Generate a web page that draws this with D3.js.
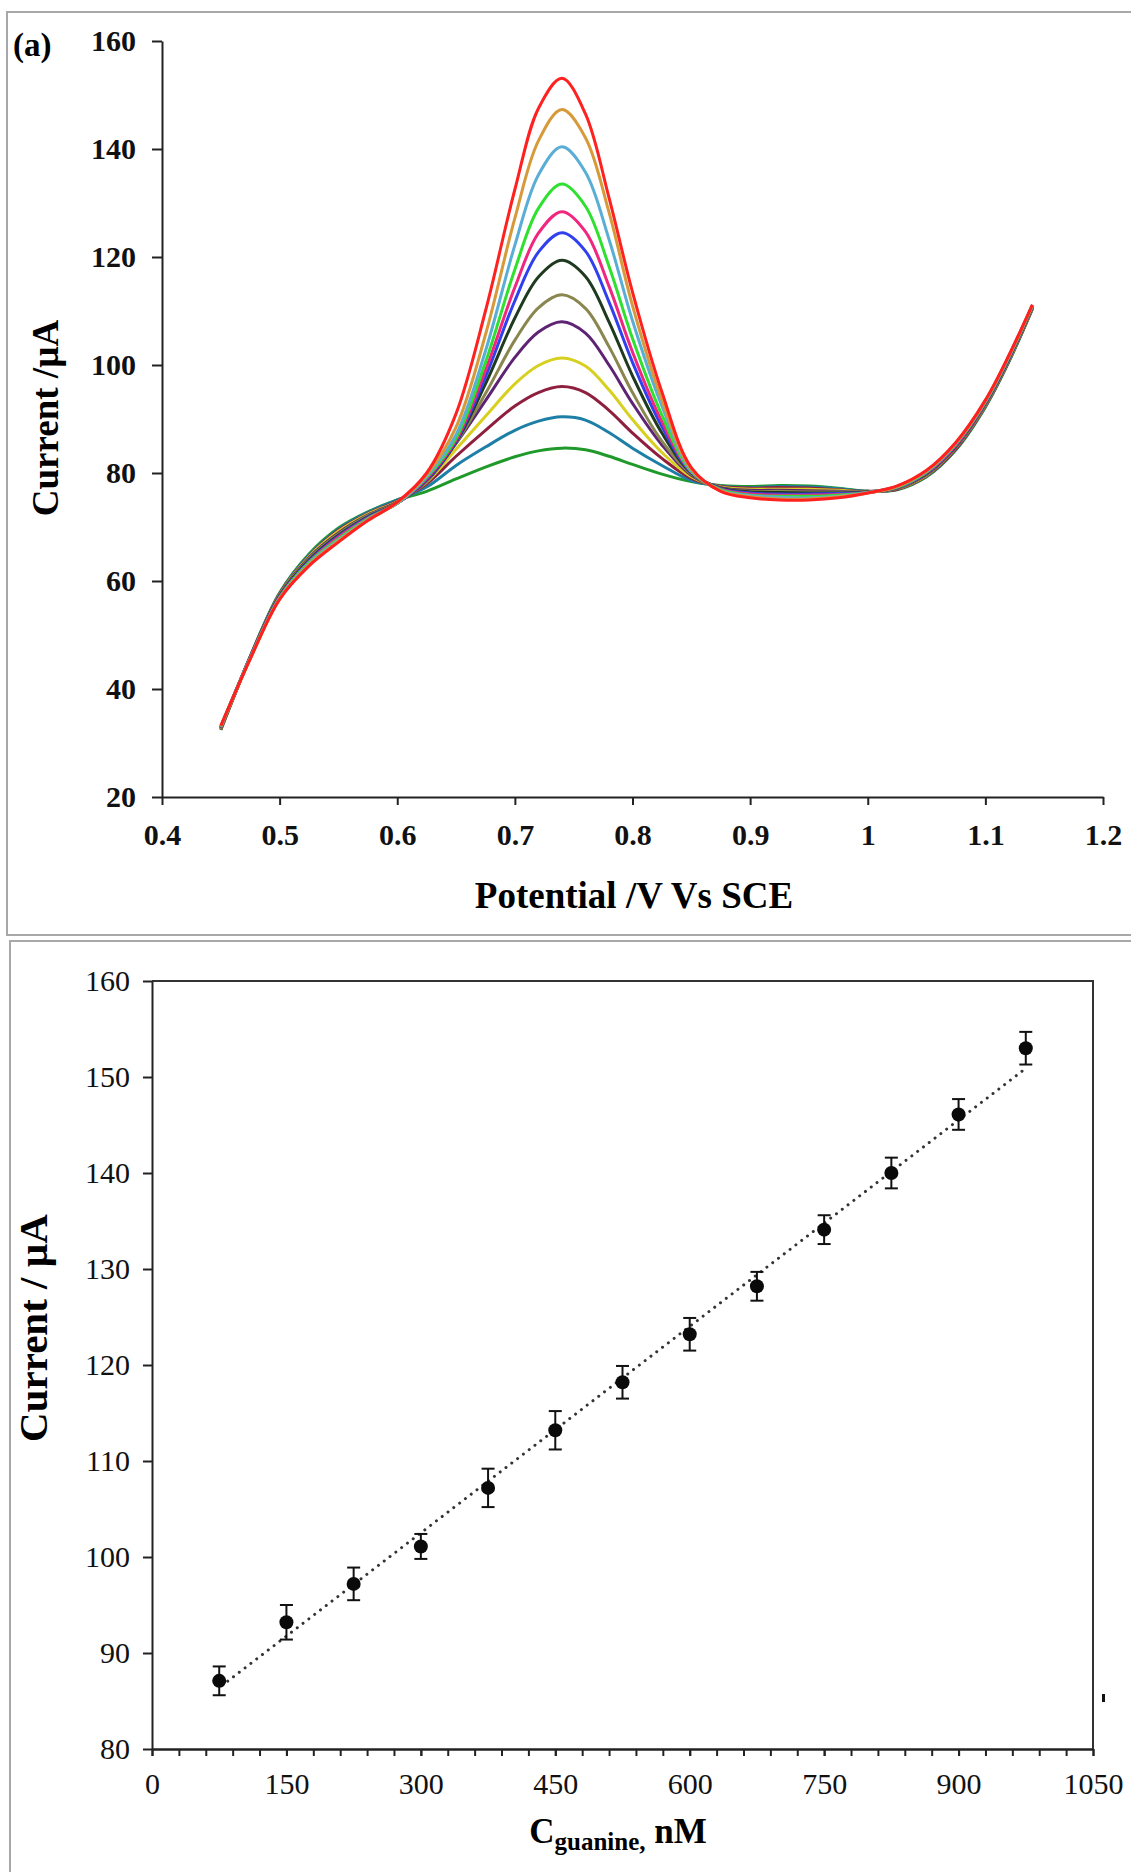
<!DOCTYPE html>
<html>
<head>
<meta charset="utf-8">
<script src="https://cdn.jsdelivr.net/npm/d3@7"></script>
<style>
  body { margin: 0; background: #fff; }
  svg { display: block; }
</style>
</head>
<body>
<script>
// ---- panel (a): voltammograms ----
const potentials = [0.45, 0.475, 0.5, 0.525, 0.55, 0.575, 0.6, 0.625, 0.65, 0.675, 0.7, 0.72, 0.74, 0.76, 0.78, 0.8, 0.825, 0.85, 0.875, 0.9, 0.925, 0.95, 0.975, 1.0, 1.025, 1.05, 1.075, 1.1, 1.12, 1.14]

const curveGreen = [32.4, 46.0, 57.8, 65.0, 69.8, 72.8, 75.0, 76.6, 78.9, 81.1, 83.0, 84.1, 84.6, 84.3, 83.1, 81.6, 79.8, 78.4, 77.7, 77.5, 77.7, 77.6, 77.2, 76.6, 76.9, 79.3, 84.3, 92.2, 100.6, 110.4]
const curveTeal = [32.5, 46.0, 57.7, 64.8, 69.6, 72.7, 75.0, 77.4, 81.4, 84.8, 87.9, 89.6, 90.4, 89.8, 87.5, 84.6, 81.4, 78.6, 77.6, 77.3, 77.5, 77.4, 77.1, 76.6, 77.0, 79.4, 84.4, 92.3, 100.7, 110.5]
const curveMaroon = [32.5, 45.9, 57.6, 64.6, 69.4, 72.5, 74.8, 78.0, 83.1, 87.9, 92.4, 94.9, 96.0, 94.9, 91.6, 87.4, 82.7, 79.0, 77.5, 77.2, 77.3, 77.2, 76.9, 76.6, 77.0, 79.5, 84.5, 92.4, 100.8, 110.5]
const curveYellow = [32.6, 45.9, 57.5, 64.5, 69.2, 72.4, 74.7, 78.3, 84.4, 90.5, 96.5, 99.9, 101.3, 99.8, 95.4, 89.9, 83.8, 79.3, 77.4, 77.0, 77.0, 77.0, 76.8, 76.5, 77.1, 79.6, 84.7, 92.5, 100.9, 110.6]
const curvePurple = [32.7, 45.9, 57.4, 64.3, 68.9, 72.2, 74.6, 78.5, 85.5, 93.4, 101.4, 106.1, 108.0, 105.9, 100.0, 92.9, 85.2, 79.6, 77.3, 76.8, 76.8, 76.7, 76.6, 76.5, 77.1, 79.7, 84.8, 92.6, 101.0, 110.7]
const curveOlive = [32.7, 45.8, 57.3, 64.1, 68.7, 72.1, 74.5, 78.6, 85.6, 94.7, 104.6, 110.6, 113.0, 110.5, 103.4, 94.9, 85.9, 79.8, 77.2, 76.6, 76.6, 76.5, 76.5, 76.5, 77.2, 79.8, 84.9, 92.7, 101.1, 110.7]
const curveDarkGreen = [32.8, 45.8, 57.2, 63.9, 68.5, 71.9, 74.4, 78.7, 85.7, 96.5, 108.7, 116.3, 119.4, 116.4, 108.0, 98.0, 87.4, 80.0, 77.2, 76.5, 76.4, 76.3, 76.3, 76.5, 77.3, 79.9, 85.0, 92.9, 101.2, 110.8]
const curveBlue = [32.9, 45.8, 57.1, 63.7, 68.3, 71.8, 74.4, 78.8, 85.9, 97.8, 111.9, 120.9, 124.5, 121.1, 111.7, 100.5, 88.6, 80.1, 77.1, 76.3, 76.1, 76.1, 76.2, 76.4, 77.3, 80.0, 85.1, 93.0, 101.3, 110.9]
const curvePink = [32.9, 45.7, 57.0, 63.5, 68.1, 71.6, 74.4, 79.0, 86.1, 99.0, 114.4, 124.4, 128.4, 124.7, 114.6, 102.4, 89.5, 80.2, 77.0, 76.1, 75.9, 75.9, 76.0, 76.4, 77.4, 80.1, 85.2, 93.1, 101.4, 110.9]
const curveLime = [33.0, 45.7, 56.9, 63.4, 67.8, 71.5, 74.4, 79.2, 86.5, 100.5, 117.7, 129.0, 133.5, 129.4, 118.3, 104.9, 90.7, 80.3, 76.9, 75.9, 75.7, 75.7, 75.9, 76.4, 77.4, 80.2, 85.4, 93.2, 101.5, 111.0]
const curveSky = [33.1, 45.7, 56.8, 63.2, 67.6, 71.4, 74.4, 79.4, 87.1, 102.6, 122.2, 135.2, 140.4, 135.7, 123.3, 108.2, 92.4, 80.4, 76.8, 75.8, 75.5, 75.4, 75.7, 76.4, 77.5, 80.3, 85.5, 93.3, 101.6, 111.1]
const curveOrange = [33.1, 45.6, 56.7, 63.0, 67.4, 71.3, 74.5, 79.7, 88.5, 105.6, 127.2, 141.5, 147.3, 142.1, 128.3, 111.0, 93.5, 80.7, 76.7, 75.6, 75.2, 75.2, 75.6, 76.3, 77.5, 80.4, 85.6, 93.4, 101.7, 111.1]
const curveRed = [33.2, 45.6, 56.6, 62.8, 67.2, 71.2, 74.6, 80.0, 91.0, 110.0, 132.5, 147.5, 153.1, 146.5, 131.0, 113.5, 95.0, 81.0, 76.6, 75.4, 75.0, 75.0, 75.4, 76.3, 77.6, 80.5, 85.7, 93.5, 101.8, 111.2]

const curves = [curveGreen, curveTeal, curveMaroon, curveYellow, curvePurple, curveOlive,
  curveDarkGreen, curveBlue, curvePink, curveLime, curveSky, curveOrange, curveRed]
const curveColors = ['#1f9a2a', '#1e7fa6', '#8e1f3f', '#d8d020', '#5e2473', '#8a8650',
  '#1f3a1f', '#3040ee', '#f0267f', '#2fe02f', '#5aaed6', '#d69a3a', '#ff2020']

const topXTicks = [0.4, 0.5, 0.6, 0.7, 0.8, 0.9, 1.0, 1.1, 1.2]
const topYTicks = [20, 40, 60, 80, 100, 120, 140, 160]

// ---- panel (b): calibration ----
const concentrations = [75, 150, 225, 300, 375, 450, 525, 600, 675, 750, 825, 900, 975]
const peakCurrents = [87.1, 93.2, 97.2, 101.1, 107.2, 113.2, 118.2, 123.2, 128.2, 134.1, 140.0, 146.1, 153.0]
const errorBars = [1.5, 1.8, 1.7, 1.3, 2.0, 2.0, 1.7, 1.7, 1.5, 1.5, 1.6, 1.6, 1.7]
const fitEnds = [[78, 86.6], [975, 150.9]]

const botXTicks = [0, 150, 300, 450, 600, 750, 900, 1050]
const botXMinor = d3.range(0, 1051, 30)
const botYTicks = [80, 90, 100, 110, 120, 130, 140, 150, 160]

const SERIF = '"Liberation Serif", "Times New Roman", serif'
const W = 1131, H = 1872

const svg = d3.select('body').append('svg')
  .attr('width', W).attr('height', H)
  .attr('font-family', SERIF)

// panel borders
svg.append('path')
  .attr('d', 'M1131,12 H7 V935 H1131')
  .attr('fill', 'none').attr('stroke', '#a8a8a8').attr('stroke-width', 2)
svg.append('path')
  .attr('d', 'M1131,941 H10 V1872')
  .attr('fill', 'none').attr('stroke', '#a8a8a8').attr('stroke-width', 2)

const styleAxis = (g, size, weight) => {
  g.attr('font-family', SERIF)
  g.select('.domain').attr('stroke', '#222').attr('stroke-width', 2)
  g.selectAll('.tick line').attr('stroke', '#222').attr('stroke-width', 2)
  g.selectAll('.tick text').attr('fill', '#111').attr('font-size', size).attr('font-weight', weight)
}

// ===== top chart =====
const x1 = d3.scaleLinear().domain([0.4, 1.2]).range([162, 1103])
const y1 = d3.scaleLinear().domain([20, 160]).range([797, 41])

svg.append('g')
  .attr('transform', 'translate(0,797)')
  .call(d3.axisBottom(x1).tickValues(topXTicks).tickSize(8).tickSizeOuter(0)
    .tickPadding(19).tickFormat(d3.format('~g')))
  .call(g => styleAxis(g, 30, 'bold'))

svg.append('g')
  .attr('transform', 'translate(162,0)')
  .call(d3.axisLeft(y1).tickValues(topYTicks).tickSize(10).tickSizeOuter(0).tickPadding(16))
  .call(g => styleAxis(g, 30, 'bold'))

const line1 = d3.line()
  .x((d, i) => x1(potentials[i]))
  .y(d => y1(d))
  .curve(d3.curveCatmullRom.alpha(0.5))

svg.append('g').selectAll('path')
  .data(curves)
  .join('path')
  .attr('d', line1)
  .attr('fill', 'none')
  .attr('stroke', (d, i) => curveColors[i])
  .attr('stroke-width', 3)

svg.append('text').attr('x', 13).attr('y', 56)
  .attr('font-size', 33).attr('font-weight', 'bold').text('(a)')

svg.append('text').attr('x', 634).attr('y', 908)
  .attr('text-anchor', 'middle').attr('font-size', 37).attr('font-weight', 'bold')
  .text('Potential /V Vs SCE')

svg.append('text')
  .attr('transform', 'translate(58,418) rotate(-90)')
  .attr('text-anchor', 'middle').attr('font-size', 37).attr('font-weight', 'bold')
  .text('Current /µA')

// ===== bottom chart =====
const x2 = d3.scaleLinear().domain([0, 1050]).range([152, 1093])
const y2 = d3.scaleLinear().domain([80, 160]).range([1749, 981])

// frame top/right
svg.append('path')
  .attr('d', `M${x2(0)},${y2(160)} H${x2(1050)} V${y2(80)}`)
  .attr('fill', 'none').attr('stroke', '#333').attr('stroke-width', 2)

svg.append('g')
  .attr('transform', `translate(0,${y2(80)})`)
  .call(d3.axisBottom(x2).tickValues(botXMinor).tickSize(7).tickSizeOuter(0).tickFormat(''))
  .call(g => styleAxis(g, 30, 'normal'))

svg.append('g')
  .attr('transform', `translate(0,${y2(80)})`)
  .call(d3.axisBottom(x2).tickValues(botXTicks).tickSize(7).tickSizeOuter(0)
    .tickPadding(17).tickFormat(d3.format('d')))
  .call(g => styleAxis(g, 30, 'normal'))

svg.append('g')
  .attr('transform', `translate(${x2(0)},0)`)
  .call(d3.axisLeft(y2).tickValues(botYTicks).tickSize(9).tickSizeOuter(0).tickPadding(13))
  .call(g => styleAxis(g, 30, 'normal'))

// dotted fit line
svg.append('path')
  .attr('d', d3.line().x(d => x2(d[0])).y(d => y2(d[1]))(fitEnds))
  .attr('stroke', '#333').attr('stroke-width', 3)
  .attr('stroke-linecap', 'round').attr('stroke-dasharray', '0.01 7.3')
  .attr('fill', 'none')

const pts = concentrations.map((c, i) => ({ c, v: peakCurrents[i], e: errorBars[i] }))

const eb = svg.append('g').attr('stroke', '#111').attr('stroke-width', 2)
eb.selectAll('line.v').data(pts).join('line').attr('class', 'v')
  .attr('x1', d => x2(d.c)).attr('x2', d => x2(d.c))
  .attr('y1', d => y2(d.v - d.e)).attr('y2', d => y2(d.v + d.e))
eb.selectAll('line.t').data(pts).join('line').attr('class', 't')
  .attr('x1', d => x2(d.c) - 6.5).attr('x2', d => x2(d.c) + 6.5)
  .attr('y1', d => y2(d.v + d.e)).attr('y2', d => y2(d.v + d.e))
eb.selectAll('line.b').data(pts).join('line').attr('class', 'b')
  .attr('x1', d => x2(d.c) - 6.5).attr('x2', d => x2(d.c) + 6.5)
  .attr('y1', d => y2(d.v - d.e)).attr('y2', d => y2(d.v - d.e))

svg.append('g').selectAll('circle').data(pts).join('circle')
  .attr('cx', d => x2(d.c)).attr('cy', d => y2(d.v)).attr('r', 7)
  .attr('fill', '#0a0a0a')

const xl = svg.append('text').attr('x', 618).attr('y', 1843)
  .attr('text-anchor', 'middle').attr('font-size', 35).attr('font-weight', 'bold')
xl.append('tspan').text('C')
xl.append('tspan').attr('font-size', 25).attr('dy', 7).text('guanine,')
xl.append('tspan').attr('dy', -7).text(' nM')

svg.append('text')
  .attr('transform', 'translate(47,1328) rotate(-90)')
  .attr('text-anchor', 'middle').attr('font-size', 41).attr('font-weight', 'bold')
  .text('Current / µA')

// stray mark at right edge of the figure
svg.append('rect').attr('x', 1102).attr('y', 1694).attr('width', 3).attr('height', 8).attr('fill', '#111')
</script>
</body>
</html>
